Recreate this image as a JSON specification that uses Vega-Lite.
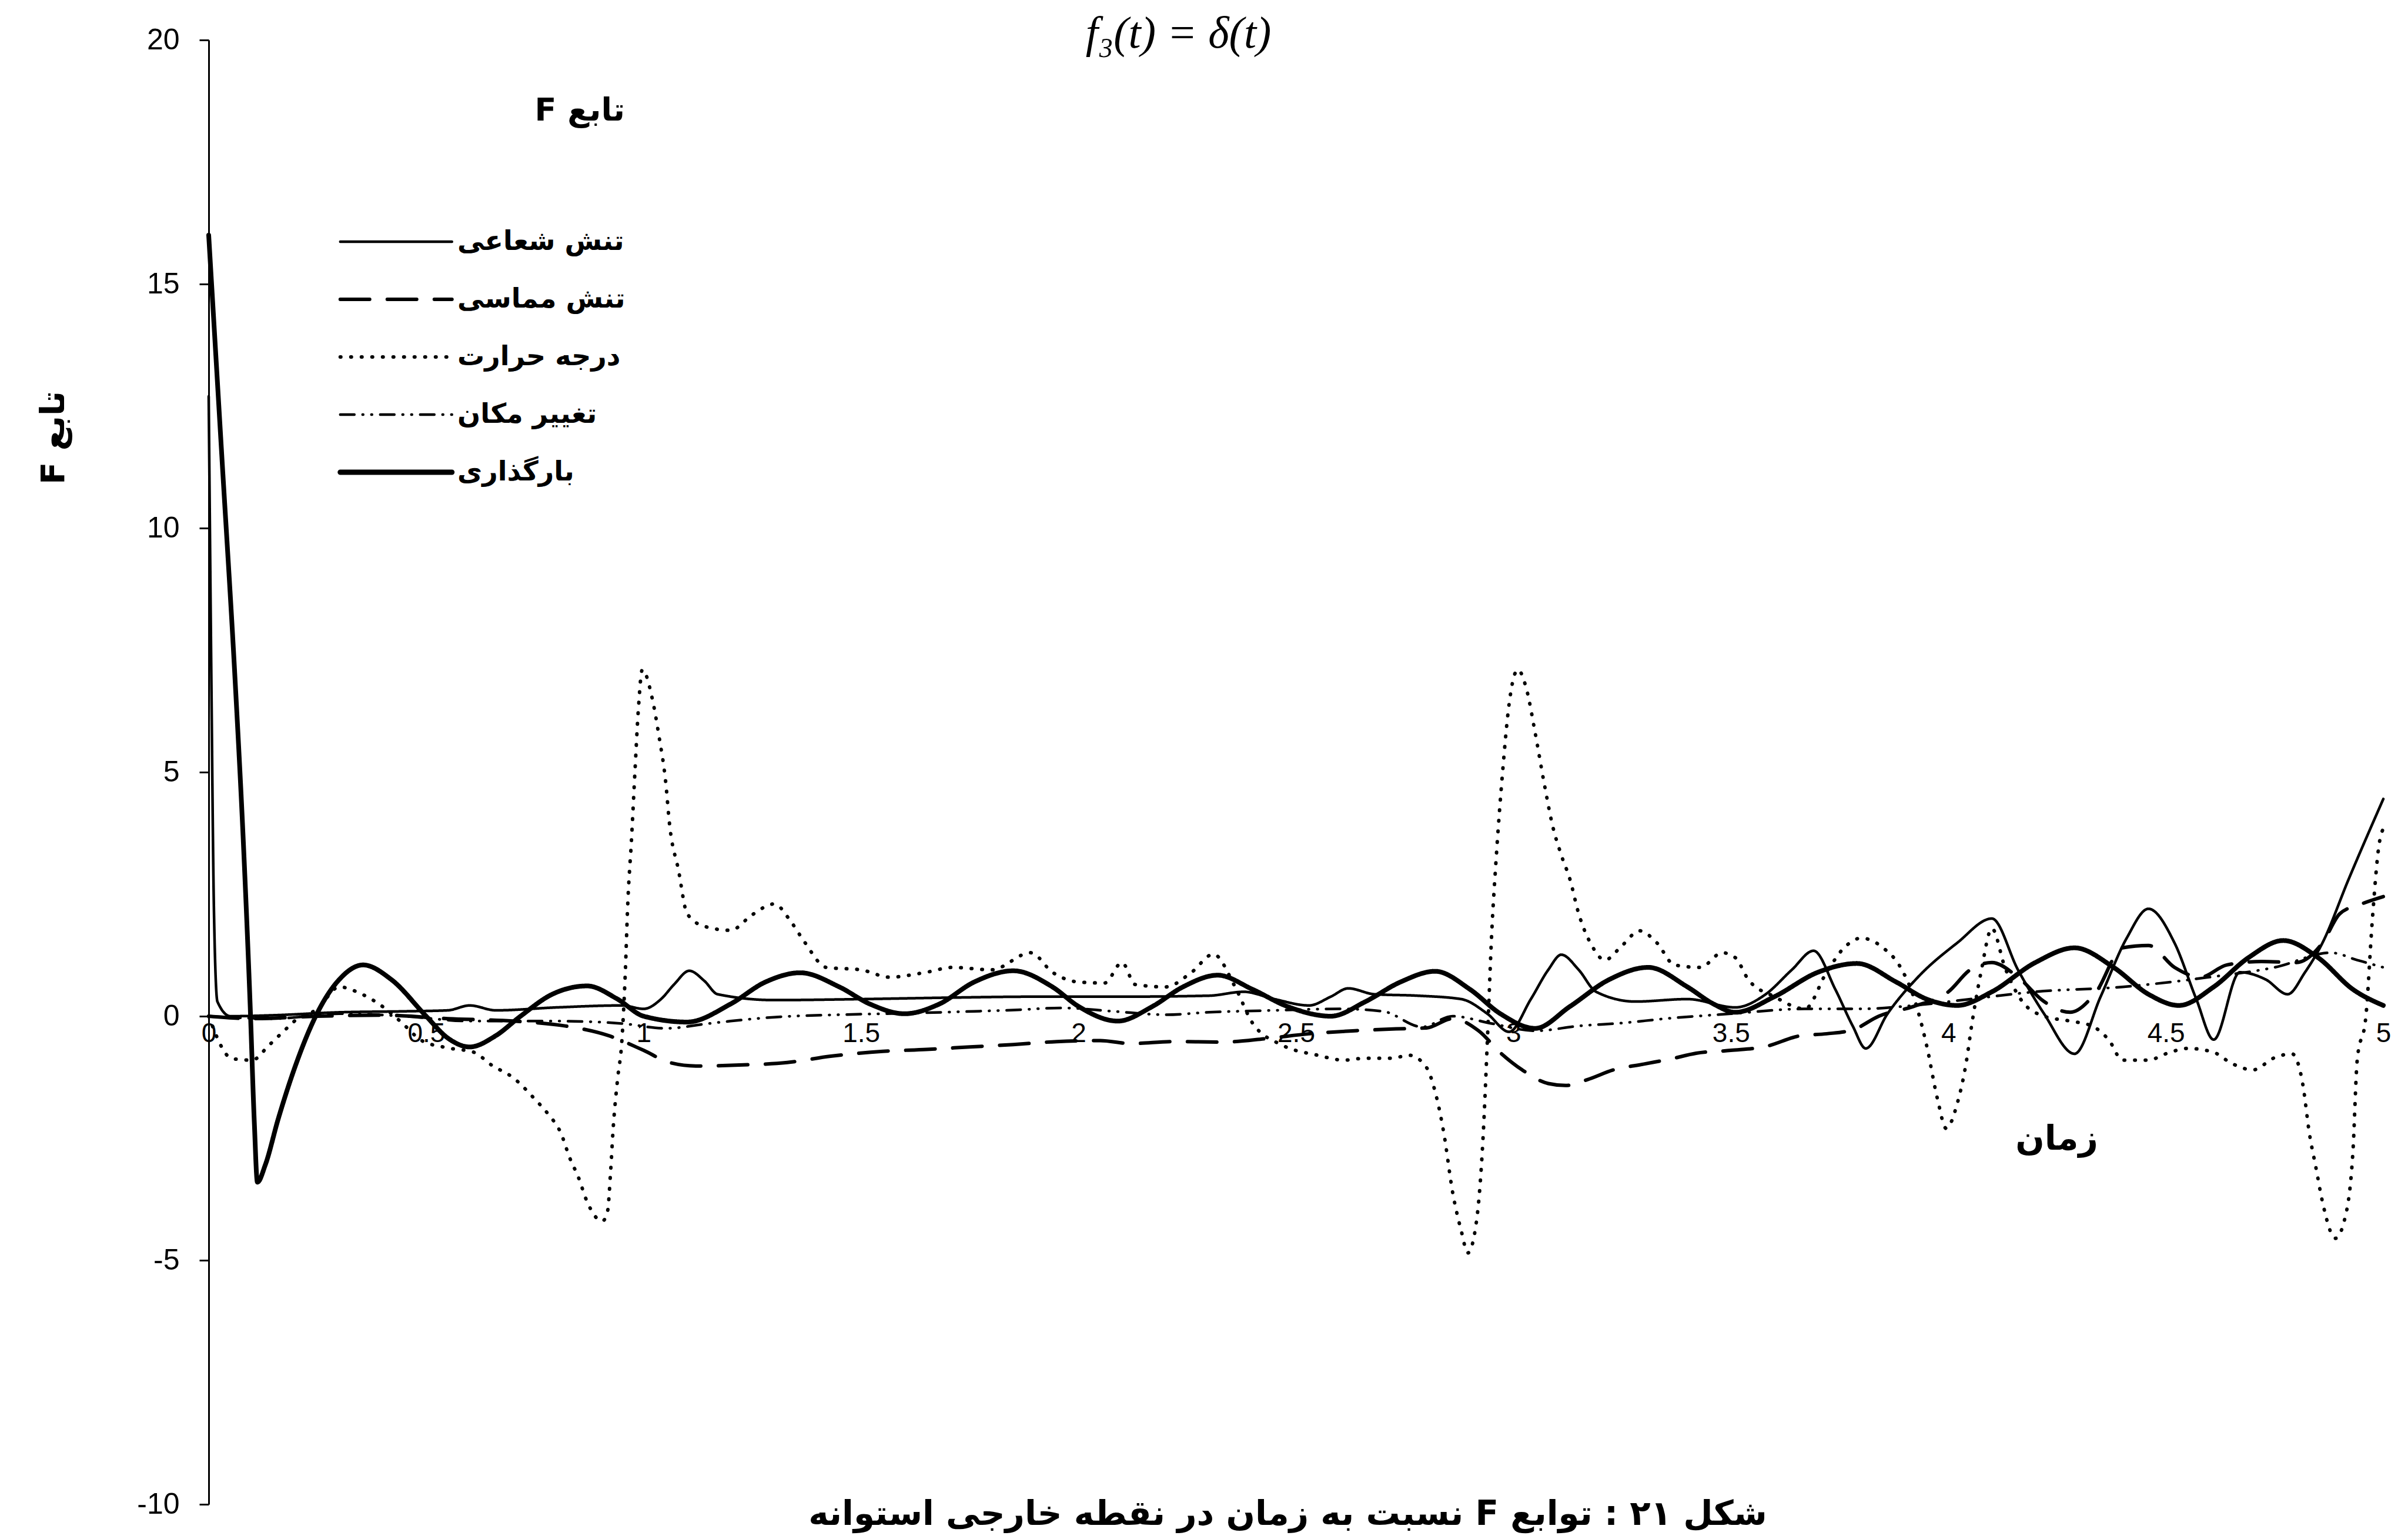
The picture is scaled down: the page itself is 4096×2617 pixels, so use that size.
{
  "$schema": "https://vega.github.io/schema/vega-lite/v6.json",
  "width": 3699,
  "height": 2490,
  "autosize": {"type": "none"},
  "padding": {"left": 355, "top": 68, "right": 42, "bottom": 59},
  "background": "white",
  "config": {"view": {"stroke": null}, "font": "Liberation Sans"},
  "datasets": {
    "curves": [
      {"series": "تنش شعاعی", "t": 0, "F": 12.7},
      {"series": "تنش شعاعی", "t": 0.006, "F": 7},
      {"series": "تنش شعاعی", "t": 0.012, "F": 2.2},
      {"series": "تنش شعاعی", "t": 0.02, "F": 0.3},
      {"series": "تنش شعاعی", "t": 0.05, "F": 0},
      {"series": "تنش شعاعی", "t": 0.15, "F": 0.02},
      {"series": "تنش شعاعی", "t": 0.3, "F": 0.08},
      {"series": "تنش شعاعی", "t": 0.45, "F": 0.1},
      {"series": "تنش شعاعی", "t": 0.55, "F": 0.12},
      {"series": "تنش شعاعی", "t": 0.6, "F": 0.22},
      {"series": "تنش شعاعی", "t": 0.66, "F": 0.12},
      {"series": "تنش شعاعی", "t": 0.8, "F": 0.18},
      {"series": "تنش شعاعی", "t": 0.95, "F": 0.22},
      {"series": "تنش شعاعی", "t": 1.0, "F": 0.15},
      {"series": "تنش شعاعی", "t": 1.04, "F": 0.35},
      {"series": "تنش شعاعی", "t": 1.07, "F": 0.65},
      {"series": "تنش شعاعی", "t": 1.105, "F": 0.93},
      {"series": "تنش شعاعی", "t": 1.14, "F": 0.72},
      {"series": "تنش شعاعی", "t": 1.17, "F": 0.45},
      {"series": "تنش شعاعی", "t": 1.3, "F": 0.33},
      {"series": "تنش شعاعی", "t": 1.5, "F": 0.35},
      {"series": "تنش شعاعی", "t": 1.7, "F": 0.38},
      {"series": "تنش شعاعی", "t": 1.9, "F": 0.4},
      {"series": "تنش شعاعی", "t": 2.1, "F": 0.4},
      {"series": "تنش شعاعی", "t": 2.3, "F": 0.42},
      {"series": "تنش شعاعی", "t": 2.38, "F": 0.5},
      {"series": "تنش شعاعی", "t": 2.45, "F": 0.35},
      {"series": "تنش شعاعی", "t": 2.53, "F": 0.22},
      {"series": "تنش شعاعی", "t": 2.58, "F": 0.4},
      {"series": "تنش شعاعی", "t": 2.62, "F": 0.57},
      {"series": "تنش شعاعی", "t": 2.68, "F": 0.45},
      {"series": "تنش شعاعی", "t": 2.78, "F": 0.42},
      {"series": "تنش شعاعی", "t": 2.88, "F": 0.35},
      {"series": "تنش شعاعی", "t": 2.94, "F": 0.05},
      {"series": "تنش شعاعی", "t": 2.99, "F": -0.32},
      {"series": "تنش شعاعی", "t": 3.04, "F": 0.35},
      {"series": "تنش شعاعی", "t": 3.08, "F": 0.95},
      {"series": "تنش شعاعی", "t": 3.11, "F": 1.26},
      {"series": "تنش شعاعی", "t": 3.15, "F": 0.95},
      {"series": "تنش شعاعی", "t": 3.19, "F": 0.5},
      {"series": "تنش شعاعی", "t": 3.28, "F": 0.3},
      {"series": "تنش شعاعی", "t": 3.4, "F": 0.35},
      {"series": "تنش شعاعی", "t": 3.51, "F": 0.18},
      {"series": "تنش شعاعی", "t": 3.58, "F": 0.45},
      {"series": "تنش شعاعی", "t": 3.64, "F": 0.95},
      {"series": "تنش شعاعی", "t": 3.69, "F": 1.34},
      {"series": "تنش شعاعی", "t": 3.74, "F": 0.55},
      {"series": "تنش شعاعی", "t": 3.78, "F": -0.2},
      {"series": "تنش شعاعی", "t": 3.81, "F": -0.66},
      {"series": "تنش شعاعی", "t": 3.86, "F": 0.05},
      {"series": "تنش شعاعی", "t": 3.93, "F": 0.8},
      {"series": "تنش شعاعی", "t": 4.02, "F": 1.5},
      {"series": "تنش شعاعی", "t": 4.1, "F": 2.0},
      {"series": "تنش شعاعی", "t": 4.16, "F": 0.95},
      {"series": "تنش شعاعی", "t": 4.22, "F": 0.05},
      {"series": "تنش شعاعی", "t": 4.29, "F": -0.77},
      {"series": "تنش شعاعی", "t": 4.35, "F": 0.4},
      {"series": "تنش شعاعی", "t": 4.41, "F": 1.6},
      {"series": "تنش شعاعی", "t": 4.46, "F": 2.2},
      {"series": "تنش شعاعی", "t": 4.52, "F": 1.5},
      {"series": "تنش شعاعی", "t": 4.57, "F": 0.35},
      {"series": "تنش شعاعی", "t": 4.61, "F": -0.48},
      {"series": "تنش شعاعی", "t": 4.67, "F": 0.9},
      {"series": "تنش شعاعی", "t": 4.73, "F": 0.75},
      {"series": "تنش شعاعی", "t": 4.78, "F": 0.45},
      {"series": "تنش شعاعی", "t": 4.82, "F": 0.9},
      {"series": "تنش شعاعی", "t": 4.86, "F": 1.5},
      {"series": "تنش شعاعی", "t": 4.92, "F": 2.8},
      {"series": "تنش شعاعی", "t": 5.0, "F": 4.45},

      {"series": "بارگذاری", "t": 0, "F": 16},
      {"series": "بارگذاری", "t": 0.03, "F": 11.5},
      {"series": "بارگذاری", "t": 0.06, "F": 7},
      {"series": "بارگذاری", "t": 0.08, "F": 3.5},
      {"series": "بارگذاری", "t": 0.095, "F": 0.3},
      {"series": "بارگذاری", "t": 0.105, "F": -2.2},
      {"series": "بارگذاری", "t": 0.112, "F": -3.4},
      {"series": "بارگذاری", "t": 0.13, "F": -3.05},
      {"series": "بارگذاری", "t": 0.16, "F": -2.1},
      {"series": "بارگذاری", "t": 0.2, "F": -1.0},
      {"series": "بارگذاری", "t": 0.246, "F": 0},
      {"series": "بارگذاری", "t": 0.3, "F": 0.75},
      {"series": "بارگذاری", "t": 0.355, "F": 1.05},
      {"series": "بارگذاری", "t": 0.42, "F": 0.75},
      {"series": "بارگذاری", "t": 0.5, "F": 0},
      {"series": "بارگذاری", "t": 0.55, "F": -0.45},
      {"series": "بارگذاری", "t": 0.6, "F": -0.63},
      {"series": "بارگذاری", "t": 0.66, "F": -0.4},
      {"series": "بارگذاری", "t": 0.717, "F": 0},
      {"series": "بارگذاری", "t": 0.79, "F": 0.45},
      {"series": "بارگذاری", "t": 0.87, "F": 0.62},
      {"series": "بارگذاری", "t": 0.94, "F": 0.35},
      {"series": "بارگذاری", "t": 1.0, "F": 0},
      {"series": "بارگذاری", "t": 1.1, "F": -0.12},
      {"series": "بارگذاری", "t": 1.2, "F": 0.25},
      {"series": "بارگذاری", "t": 1.28, "F": 0.7},
      {"series": "بارگذاری", "t": 1.36, "F": 0.89},
      {"series": "بارگذاری", "t": 1.45, "F": 0.6},
      {"series": "بارگذاری", "t": 1.52, "F": 0.25},
      {"series": "بارگذاری", "t": 1.6, "F": 0.05},
      {"series": "بارگذاری", "t": 1.68, "F": 0.25},
      {"series": "بارگذاری", "t": 1.76, "F": 0.7},
      {"series": "بارگذاری", "t": 1.85, "F": 0.93},
      {"series": "بارگذاری", "t": 1.94, "F": 0.6},
      {"series": "بارگذاری", "t": 2.0, "F": 0.2},
      {"series": "بارگذاری", "t": 2.09, "F": -0.1},
      {"series": "بارگذاری", "t": 2.17, "F": 0.2},
      {"series": "بارگذاری", "t": 2.24, "F": 0.6},
      {"series": "بارگذاری", "t": 2.32, "F": 0.84},
      {"series": "بارگذاری", "t": 2.4, "F": 0.55},
      {"series": "بارگذاری", "t": 2.48, "F": 0.2},
      {"series": "بارگذاری", "t": 2.58, "F": 0},
      {"series": "بارگذاری", "t": 2.66, "F": 0.3},
      {"series": "بارگذاری", "t": 2.74, "F": 0.7},
      {"series": "بارگذاری", "t": 2.82, "F": 0.92},
      {"series": "بارگذاری", "t": 2.9, "F": 0.55},
      {"series": "بارگذاری", "t": 2.97, "F": 0.05},
      {"series": "بارگذاری", "t": 3.05, "F": -0.25},
      {"series": "بارگذاری", "t": 3.13, "F": 0.2},
      {"series": "بارگذاری", "t": 3.22, "F": 0.75},
      {"series": "بارگذاری", "t": 3.31, "F": 1.0},
      {"series": "بارگذاری", "t": 3.4, "F": 0.6},
      {"series": "بارگذاری", "t": 3.46, "F": 0.25},
      {"series": "بارگذاری", "t": 3.51, "F": 0.08},
      {"series": "بارگذاری", "t": 3.6, "F": 0.4},
      {"series": "بارگذاری", "t": 3.7, "F": 0.9},
      {"series": "بارگذاری", "t": 3.79, "F": 1.08},
      {"series": "بارگذاری", "t": 3.88, "F": 0.7},
      {"series": "بارگذاری", "t": 3.95, "F": 0.35},
      {"series": "بارگذاری", "t": 4.02, "F": 0.22},
      {"series": "بارگذاری", "t": 4.1, "F": 0.5},
      {"series": "بارگذاری", "t": 4.2, "F": 1.1},
      {"series": "بارگذاری", "t": 4.29, "F": 1.4},
      {"series": "بارگذاری", "t": 4.38, "F": 1.0},
      {"series": "بارگذاری", "t": 4.46, "F": 0.45},
      {"series": "بارگذاری", "t": 4.53, "F": 0.22},
      {"series": "بارگذاری", "t": 4.61, "F": 0.6},
      {"series": "بارگذاری", "t": 4.69, "F": 1.2},
      {"series": "بارگذاری", "t": 4.77, "F": 1.55},
      {"series": "بارگذاری", "t": 4.85, "F": 1.2},
      {"series": "بارگذاری", "t": 4.93, "F": 0.55},
      {"series": "بارگذاری", "t": 5.0, "F": 0.22},

      {"series": "درجه حرارت", "t": 0, "F": 0},
      {"series": "درجه حرارت", "t": 0.054, "F": -0.87},
      {"series": "درجه حرارت", "t": 0.1, "F": -0.9},
      {"series": "درجه حرارت", "t": 0.138, "F": -0.6},
      {"series": "درجه حرارت", "t": 0.178, "F": -0.26},
      {"series": "درجه حرارت", "t": 0.2, "F": -0.08},
      {"series": "درجه حرارت", "t": 0.25, "F": 0.15},
      {"series": "درجه حرارت", "t": 0.3, "F": 0.6},
      {"series": "درجه حرارت", "t": 0.35, "F": 0.46},
      {"series": "درجه حرارت", "t": 0.39, "F": 0.26},
      {"series": "درجه حرارت", "t": 0.44, "F": -0.1},
      {"series": "درجه حرارت", "t": 0.49, "F": -0.5},
      {"series": "درجه حرارت", "t": 0.55, "F": -0.65},
      {"series": "درجه حرارت", "t": 0.61, "F": -0.74},
      {"series": "درجه حرارت", "t": 0.65, "F": -1.0},
      {"series": "درجه حرارت", "t": 0.7, "F": -1.26},
      {"series": "درجه حرارت", "t": 0.75, "F": -1.7},
      {"series": "درجه حرارت", "t": 0.78, "F": -2.0},
      {"series": "درجه حرارت", "t": 0.81, "F": -2.4},
      {"series": "درجه حرارت", "t": 0.83, "F": -2.9},
      {"series": "درجه حرارت", "t": 0.85, "F": -3.3},
      {"series": "درجه حرارت", "t": 0.87, "F": -3.8},
      {"series": "درجه حرارت", "t": 0.905, "F": -4.2},
      {"series": "درجه حرارت", "t": 0.917, "F": -4.0},
      {"series": "درجه حرارت", "t": 0.924, "F": -3.2},
      {"series": "درجه حرارت", "t": 0.93, "F": -2.3},
      {"series": "درجه حرارت", "t": 0.94, "F": -1.3},
      {"series": "درجه حرارت", "t": 0.95, "F": -0.5},
      {"series": "درجه حرارت", "t": 0.957, "F": 0.7},
      {"series": "درجه حرارت", "t": 0.964, "F": 2.4},
      {"series": "درجه حرارت", "t": 0.972, "F": 3.6},
      {"series": "درجه حرارت", "t": 0.98, "F": 5.0},
      {"series": "درجه حرارت", "t": 0.988, "F": 6.3},
      {"series": "درجه حرارت", "t": 0.997, "F": 7.1},
      {"series": "درجه حرارت", "t": 1.02, "F": 6.5},
      {"series": "درجه حرارت", "t": 1.036, "F": 5.7},
      {"series": "درجه حرارت", "t": 1.05, "F": 4.86},
      {"series": "درجه حرارت", "t": 1.06, "F": 3.9},
      {"series": "درجه حرارت", "t": 1.08, "F": 3.0},
      {"series": "درجه حرارت", "t": 1.1, "F": 2.1},
      {"series": "درجه حرارت", "t": 1.14, "F": 1.84},
      {"series": "درجه حرارت", "t": 1.2, "F": 1.76},
      {"series": "درجه حرارت", "t": 1.25, "F": 2.08},
      {"series": "درجه حرارت", "t": 1.3, "F": 2.3},
      {"series": "درجه حرارت", "t": 1.34, "F": 1.92},
      {"series": "درجه حرارت", "t": 1.37, "F": 1.52},
      {"series": "درجه حرارت", "t": 1.42, "F": 1.0},
      {"series": "درجه حرارت", "t": 1.5, "F": 0.95},
      {"series": "درجه حرارت", "t": 1.565, "F": 0.8},
      {"series": "درجه حرارت", "t": 1.65, "F": 0.9},
      {"series": "درجه حرارت", "t": 1.71, "F": 1.0},
      {"series": "درجه حرارت", "t": 1.8, "F": 0.95},
      {"series": "درجه حرارت", "t": 1.89, "F": 1.3},
      {"series": "درجه حرارت", "t": 1.94, "F": 0.9},
      {"series": "درجه حرارت", "t": 2.0, "F": 0.7},
      {"series": "درجه حرارت", "t": 2.06, "F": 0.68},
      {"series": "درجه حرارت", "t": 2.1, "F": 1.1},
      {"series": "درجه حرارت", "t": 2.13, "F": 0.65},
      {"series": "درجه حرارت", "t": 2.2, "F": 0.6},
      {"series": "درجه حرارت", "t": 2.26, "F": 0.9},
      {"series": "درجه حرارت", "t": 2.31, "F": 1.27},
      {"series": "درجه حرارت", "t": 2.36, "F": 0.6},
      {"series": "درجه حرارت", "t": 2.4, "F": -0.14},
      {"series": "درجه حرارت", "t": 2.47, "F": -0.6},
      {"series": "درجه حرارت", "t": 2.55, "F": -0.8},
      {"series": "درجه حرارت", "t": 2.61, "F": -0.9},
      {"series": "درجه حرارت", "t": 2.66, "F": -0.86},
      {"series": "درجه حرارت", "t": 2.72, "F": -0.86},
      {"series": "درجه حرارت", "t": 2.76, "F": -0.8},
      {"series": "درجه حرارت", "t": 2.8, "F": -1.05},
      {"series": "درجه حرارت", "t": 2.82, "F": -1.55},
      {"series": "درجه حرارت", "t": 2.84, "F": -2.4},
      {"series": "درجه حرارت", "t": 2.86, "F": -3.6},
      {"series": "درجه حرارت", "t": 2.88, "F": -4.4},
      {"series": "درجه حرارت", "t": 2.895, "F": -4.85},
      {"series": "درجه حرارت", "t": 2.915, "F": -4.2},
      {"series": "درجه حرارت", "t": 2.93, "F": -2.5},
      {"series": "درجه حرارت", "t": 2.94, "F": -0.5},
      {"series": "درجه حرارت", "t": 2.95, "F": 1.7},
      {"series": "درجه حرارت", "t": 2.96, "F": 3.2},
      {"series": "درجه حرارت", "t": 2.975, "F": 5.0},
      {"series": "درجه حرارت", "t": 2.99, "F": 6.4},
      {"series": "درجه حرارت", "t": 3.01, "F": 7.1},
      {"series": "درجه حرارت", "t": 3.03, "F": 6.7},
      {"series": "درجه حرارت", "t": 3.05, "F": 5.8},
      {"series": "درجه حرارت", "t": 3.07, "F": 4.8},
      {"series": "درجه حرارت", "t": 3.09, "F": 3.9},
      {"series": "درجه حرارت", "t": 3.11, "F": 3.3},
      {"series": "درجه حرارت", "t": 3.13, "F": 2.8},
      {"series": "درجه حرارت", "t": 3.15, "F": 2.1},
      {"series": "درجه حرارت", "t": 3.18, "F": 1.45},
      {"series": "درجه حرارت", "t": 3.21, "F": 1.15},
      {"series": "درجه حرارت", "t": 3.25, "F": 1.45},
      {"series": "درجه حرارت", "t": 3.29, "F": 1.75},
      {"series": "درجه حرارت", "t": 3.33, "F": 1.5},
      {"series": "درجه حرارت", "t": 3.37, "F": 1.05},
      {"series": "درجه حرارت", "t": 3.43, "F": 1.0},
      {"series": "درجه حرارت", "t": 3.48, "F": 1.3},
      {"series": "درجه حرارت", "t": 3.51, "F": 1.2},
      {"series": "درجه حرارت", "t": 3.54, "F": 0.75},
      {"series": "درجه حرارت", "t": 3.6, "F": 0.4},
      {"series": "درجه حرارت", "t": 3.67, "F": 0.15},
      {"series": "درجه حرارت", "t": 3.72, "F": 0.9},
      {"series": "درجه حرارت", "t": 3.76, "F": 1.4},
      {"series": "درجه حرارت", "t": 3.8, "F": 1.6},
      {"series": "درجه حرارت", "t": 3.85, "F": 1.4},
      {"series": "درجه حرارت", "t": 3.89, "F": 1.0},
      {"series": "درجه حرارت", "t": 3.92, "F": 0.4},
      {"series": "درجه حرارت", "t": 3.95, "F": -0.6},
      {"series": "درجه حرارت", "t": 3.975, "F": -1.7},
      {"series": "درجه حرارت", "t": 3.995, "F": -2.3},
      {"series": "درجه حرارت", "t": 4.02, "F": -1.8},
      {"series": "درجه حرارت", "t": 4.04, "F": -1.0},
      {"series": "درجه حرارت", "t": 4.055, "F": -0.1},
      {"series": "درجه حرارت", "t": 4.075, "F": 0.9},
      {"series": "درجه حرارت", "t": 4.1, "F": 1.8},
      {"series": "درجه حرارت", "t": 4.13, "F": 1.0},
      {"series": "درجه حرارت", "t": 4.17, "F": 0.3},
      {"series": "درجه حرارت", "t": 4.22, "F": 0.0},
      {"series": "درجه حرارت", "t": 4.28, "F": -0.1},
      {"series": "درجه حرارت", "t": 4.33, "F": -0.2},
      {"series": "درجه حرارت", "t": 4.37, "F": -0.5},
      {"series": "درجه حرارت", "t": 4.4, "F": -0.9},
      {"series": "درجه حرارت", "t": 4.46, "F": -0.9},
      {"series": "درجه حرارت", "t": 4.5, "F": -0.77},
      {"series": "درجه حرارت", "t": 4.55, "F": -0.66},
      {"series": "درجه حرارت", "t": 4.61, "F": -0.74},
      {"series": "درجه حرارت", "t": 4.65, "F": -0.96},
      {"series": "درجه حرارت", "t": 4.7, "F": -1.1},
      {"series": "درجه حرارت", "t": 4.75, "F": -0.85},
      {"series": "درجه حرارت", "t": 4.79, "F": -0.77},
      {"series": "درجه حرارت", "t": 4.815, "F": -1.4},
      {"series": "درجه حرارت", "t": 4.83, "F": -2.4},
      {"series": "درجه حرارت", "t": 4.845, "F": -3.1},
      {"series": "درجه حرارت", "t": 4.86, "F": -3.8},
      {"series": "درجه حرارت", "t": 4.89, "F": -4.55},
      {"series": "درجه حرارت", "t": 4.91, "F": -4.2},
      {"series": "درجه حرارت", "t": 4.93, "F": -2.8},
      {"series": "درجه حرارت", "t": 4.94, "F": -0.9},
      {"series": "درجه حرارت", "t": 4.96, "F": 0.0},
      {"series": "درجه حرارت", "t": 4.975, "F": 2.0},
      {"series": "درجه حرارت", "t": 4.99, "F": 3.5},
      {"series": "درجه حرارت", "t": 5.0, "F": 3.85},

      {"series": "تنش مماسی", "t": 0, "F": 0},
      {"series": "تنش مماسی", "t": 0.1, "F": -0.05},
      {"series": "تنش مماسی", "t": 0.25, "F": 0},
      {"series": "تنش مماسی", "t": 0.4, "F": 0.02},
      {"series": "تنش مماسی", "t": 0.55, "F": -0.05},
      {"series": "تنش مماسی", "t": 0.7, "F": -0.1},
      {"series": "تنش مماسی", "t": 0.82, "F": -0.2},
      {"series": "تنش مماسی", "t": 0.92, "F": -0.4},
      {"series": "تنش مماسی", "t": 1.0, "F": -0.7},
      {"series": "تنش مماسی", "t": 1.06, "F": -0.95},
      {"series": "تنش مماسی", "t": 1.12, "F": -1.02},
      {"series": "تنش مماسی", "t": 1.22, "F": -1.0},
      {"series": "تنش مماسی", "t": 1.33, "F": -0.95},
      {"series": "تنش مماسی", "t": 1.43, "F": -0.82},
      {"series": "تنش مماسی", "t": 1.55, "F": -0.72},
      {"series": "تنش مماسی", "t": 1.65, "F": -0.68},
      {"series": "تنش مماسی", "t": 1.75, "F": -0.63},
      {"series": "تنش مماسی", "t": 1.85, "F": -0.58},
      {"series": "تنش مماسی", "t": 1.95, "F": -0.52},
      {"series": "تنش مماسی", "t": 2.05, "F": -0.5},
      {"series": "تنش مماسی", "t": 2.12, "F": -0.56},
      {"series": "تنش مماسی", "t": 2.22, "F": -0.52},
      {"series": "تنش مماسی", "t": 2.33, "F": -0.53},
      {"series": "تنش مماسی", "t": 2.43, "F": -0.46},
      {"series": "تنش مماسی", "t": 2.53, "F": -0.36},
      {"series": "تنش مماسی", "t": 2.63, "F": -0.3},
      {"series": "تنش مماسی", "t": 2.73, "F": -0.26},
      {"series": "تنش مماسی", "t": 2.8, "F": -0.24},
      {"series": "تنش مماسی", "t": 2.86, "F": -0.05},
      {"series": "تنش مماسی", "t": 2.92, "F": -0.3},
      {"series": "تنش مماسی", "t": 2.97, "F": -0.75},
      {"series": "تنش مماسی", "t": 3.02, "F": -1.1},
      {"series": "تنش مماسی", "t": 3.08, "F": -1.38},
      {"series": "تنش مماسی", "t": 3.12, "F": -1.42},
      {"series": "تنش مماسی", "t": 3.17, "F": -1.3},
      {"series": "تنش مماسی", "t": 3.23, "F": -1.1},
      {"series": "تنش مماسی", "t": 3.3, "F": -0.98},
      {"series": "تنش مماسی", "t": 3.36, "F": -0.88},
      {"series": "تنش مماسی", "t": 3.42, "F": -0.76},
      {"series": "تنش مماسی", "t": 3.5, "F": -0.7},
      {"series": "تنش مماسی", "t": 3.58, "F": -0.62},
      {"series": "تنش مماسی", "t": 3.66, "F": -0.4},
      {"series": "تنش مماسی", "t": 3.72, "F": -0.36},
      {"series": "تنش مماسی", "t": 3.78, "F": -0.28},
      {"series": "تنش مماسی", "t": 3.84, "F": 0},
      {"series": "تنش مماسی", "t": 3.92, "F": 0.2},
      {"series": "تنش مماسی", "t": 4.0, "F": 0.5},
      {"series": "تنش مماسی", "t": 4.05, "F": 0.95},
      {"series": "تنش مماسی", "t": 4.1, "F": 1.1},
      {"series": "تنش مماسی", "t": 4.16, "F": 0.8},
      {"series": "تنش مماسی", "t": 4.22, "F": 0.3},
      {"series": "تنش مماسی", "t": 4.28, "F": 0.08},
      {"series": "تنش مماسی", "t": 4.34, "F": 0.5},
      {"series": "تنش مماسی", "t": 4.4, "F": 1.4},
      {"series": "تنش مماسی", "t": 4.46, "F": 1.45},
      {"series": "تنش مماسی", "t": 4.52, "F": 1.0},
      {"series": "تنش مماسی", "t": 4.58, "F": 0.8},
      {"series": "تنش مماسی", "t": 4.64, "F": 1.05},
      {"series": "تنش مماسی", "t": 4.72, "F": 1.12},
      {"series": "تنش مماسی", "t": 4.8, "F": 1.1},
      {"series": "تنش مماسی", "t": 4.86, "F": 1.5},
      {"series": "تنش مماسی", "t": 4.9, "F": 2.1},
      {"series": "تنش مماسی", "t": 4.95, "F": 2.3},
      {"series": "تنش مماسی", "t": 5.0, "F": 2.45},

      {"series": "تغییر مکان", "t": 0, "F": 0},
      {"series": "تغییر مکان", "t": 0.15, "F": -0.05},
      {"series": "تغییر مکان", "t": 0.3, "F": 0.05},
      {"series": "تغییر مکان", "t": 0.45, "F": 0},
      {"series": "تغییر مکان", "t": 0.6, "F": -0.1},
      {"series": "تغییر مکان", "t": 0.8, "F": -0.1},
      {"series": "تغییر مکان", "t": 0.95, "F": -0.15},
      {"series": "تغییر مکان", "t": 1.05, "F": -0.25},
      {"series": "تغییر مکان", "t": 1.15, "F": -0.15},
      {"series": "تغییر مکان", "t": 1.2, "F": -0.1},
      {"series": "تغییر مکان", "t": 1.3, "F": -0.02},
      {"series": "تغییر مکان", "t": 1.45, "F": 0.03},
      {"series": "تغییر مکان", "t": 1.6, "F": 0.06},
      {"series": "تغییر مکان", "t": 1.76, "F": 0.1},
      {"series": "تغییر مکان", "t": 1.86, "F": 0.13},
      {"series": "تغییر مکان", "t": 1.96, "F": 0.17},
      {"series": "تغییر مکان", "t": 2.08, "F": 0.1},
      {"series": "تغییر مکان", "t": 2.2, "F": 0.03},
      {"series": "تغییر مکان", "t": 2.3, "F": 0.08},
      {"series": "تغییر مکان", "t": 2.45, "F": 0.12},
      {"series": "تغییر مکان", "t": 2.6, "F": 0.15},
      {"series": "تغییر مکان", "t": 2.7, "F": 0.1},
      {"series": "تغییر مکان", "t": 2.79, "F": -0.22},
      {"series": "تغییر مکان", "t": 2.86, "F": 0},
      {"series": "تغییر مکان", "t": 2.95, "F": -0.15},
      {"series": "تغییر مکان", "t": 3.05, "F": -0.3},
      {"series": "تغییر مکان", "t": 3.15, "F": -0.2},
      {"series": "تغییر مکان", "t": 3.25, "F": -0.14},
      {"series": "تغییر مکان", "t": 3.35, "F": -0.05},
      {"series": "تغییر مکان", "t": 3.5, "F": 0.05},
      {"series": "تغییر مکان", "t": 3.67, "F": 0.15},
      {"series": "تغییر مکان", "t": 3.8, "F": 0.15},
      {"series": "تغییر مکان", "t": 3.92, "F": 0.22},
      {"series": "تغییر مکان", "t": 4.05, "F": 0.35},
      {"series": "تغییر مکان", "t": 4.2, "F": 0.5},
      {"series": "تغییر مکان", "t": 4.4, "F": 0.6},
      {"series": "تغییر مکان", "t": 4.6, "F": 0.8},
      {"series": "تغییر مکان", "t": 4.75, "F": 1.0},
      {"series": "تغییر مکان", "t": 4.88, "F": 1.3},
      {"series": "تغییر مکان", "t": 4.94, "F": 1.15},
      {"series": "تغییر مکان", "t": 5.0, "F": 1.0}
    ]
  },
  "data": {"name": "curves"},
  "encoding": {
    "y": {
      "field": "F",
      "type": "quantitative",
      "scale": {"domain": [-10, 20], "nice": false, "zero": false},
      "axis": {
        "title": "F تابع",
        "values": [-10, -5, 0, 5, 10, 15, 20],
        "labelExpr": "'' + datum.value",
        "labelFont": "Liberation Sans",
        "labelFontSize": 50,
        "labelColor": "black",
        "labelPadding": 34,
        "tickSize": 16,
        "tickWidth": 3,
        "tickColor": "black",
        "domainColor": "black",
        "domainWidth": 3,
        "grid": false,
        "titleFont": "DejaVu Sans",
        "titleFontSize": 56,
        "titleFontWeight": "bold",
        "titleColor": "black",
        "titleX": -264,
        "titleY": 676,
        "titleAngle": -90,
        "titleAlign": "center",
        "titleBaseline": "middle"
      }
    },
    "strokeDash": {
      "field": "series",
      "type": "nominal",
      "scale": {
        "domain": ["تنش شعاعی", "تنش مماسی", "درجه حرارت", "تغییر مکان", "بارگذاری"],
        "range": [[1, 0], [50, 30], [1, 17], [24, 14, 1, 14, 1, 14], [1, 0]]
      },
      "legend": {
        "orient": "none",
        "legendX": 367,
        "legendY": 94,
        "padding": 0,
        "title": "F تابع",
        "titleFont": "DejaVu Sans",
        "titleFontSize": 54,
        "titleFontWeight": "bold",
        "titleColor": "black",
        "titleAnchor": "end",
        "titleLimit": 2000,
        "titlePadding": 172,
        "symbolType": "M-7,0H1",
        "symbolSize": 2256,
        "symbolStrokeColor": "black",
        "symbolFillColor": "transparent",
        "symbolStrokeWidth": 5,
        "labelFont": "DejaVu Sans",
        "labelFontWeight": "bold",
        "labelFontSize": 46,
        "labelColor": "black",
        "labelOffset": 10,
        "labelLimit": 2000,
        "rowPadding": 52,
        "encode": {
          "symbols": {
            "update": {
              "strokeCap": {"value": "round"},
              "strokeWidth": {"signal": "datum.value === 'بارگذاری' ? 9 : (datum.value === 'تنش مماسی' || datum.value === 'درجه حرارت') ? 6 : 4.5"}
            }
          }
        }
      }
    },
    "strokeWidth": {
      "condition": [
        {"test": "datum.series === 'بارگذاری'", "value": 8},
        {"test": "datum.series === 'تنش مماسی'", "value": 6},
        {"test": "datum.series === 'درجه حرارت'", "value": 6}
      ],
      "value": 4.5
    }
  },
  "layer": [
    {
      "transform": [{"filter": {"field": "series", "oneOf": ["تنش شعاعی", "درجه حرارت"]}}],
      "mark": {"type": "line", "interpolate": "monotone", "color": "black", "strokeCap": "round", "strokeJoin": "round"},
      "encoding": {
        "x": {
          "field": "t",
          "type": "quantitative",
          "scale": {"domain": [0, 5], "nice": false, "zero": false},
          "axis": {
            "orient": "bottom",
            "offset": -830,
            "values": [0, 0.5, 1, 1.5, 2, 2.5, 3, 3.5, 4, 4.5, 5],
            "labelExpr": "'' + datum.value",
            "labelFont": "Liberation Sans",
            "labelFontSize": 46,
            "labelColor": "black",
            "labelPadding": 7,
            "labelFlush": false,
            "labelOverlap": false,
            "ticks": false,
            "domain": false,
            "grid": false,
            "title": "زمان",
            "titleFont": "DejaVu Sans",
            "titleFontSize": 58,
            "titleFontWeight": "bold",
            "titleColor": "black",
            "titleX": 3143,
            "titleY": 209,
            "titleAlign": "center",
            "titleBaseline": "middle"
          }
        }
      }
    },
    {
      "transform": [{"filter": {"field": "series", "oneOf": ["تنش مماسی", "تغییر مکان"]}}],
      "mark": {"type": "line", "interpolate": "monotone", "color": "black", "strokeCap": "round", "strokeJoin": "round"},
      "encoding": {
        "x": {
          "field": "t",
          "type": "quantitative",
          "scale": {"domain": [0, 5], "nice": false, "zero": false},
          "axis": {
            "orient": "top",
            "labels": false,
            "ticks": false,
            "domain": false,
            "grid": false,
            "title": "f₃(t) = δ(t)",
            "titleFont": "Liberation Serif",
            "titleFontStyle": "italic",
            "titleFontWeight": "normal",
            "titleFontSize": 76,
            "titleColor": "black",
            "titleX": 1649,
            "titleY": 12,
            "titleAlign": "center",
            "titleBaseline": "alphabetic"
          }
        }
      }
    },
    {
      "transform": [{"filter": {"field": "series", "equal": "بارگذاری"}}],
      "mark": {"type": "line", "interpolate": "monotone", "color": "black", "strokeCap": "round", "strokeJoin": "round"},
      "encoding": {
        "x": {
          "field": "t",
          "type": "quantitative",
          "scale": {"domain": [0, 5], "nice": false, "zero": false},
          "axis": {
            "orient": "bottom",
            "labels": false,
            "ticks": false,
            "domain": false,
            "grid": false,
            "title": "نسبت به زمان در نقطه خارجی استوانه F شکل ۲۱ : توابع",
            "titleFont": "DejaVu Sans",
            "titleFontSize": 58,
            "titleFontWeight": "bold",
            "titleColor": "black",
            "titleLimit": 4000,
            "titleX": 1835,
            "titleY": 34,
            "titleAlign": "center",
            "titleBaseline": "alphabetic"
          }
        }
      }
    }
  ],
  "resolve": {"axis": {"x": "independent"}}
}
